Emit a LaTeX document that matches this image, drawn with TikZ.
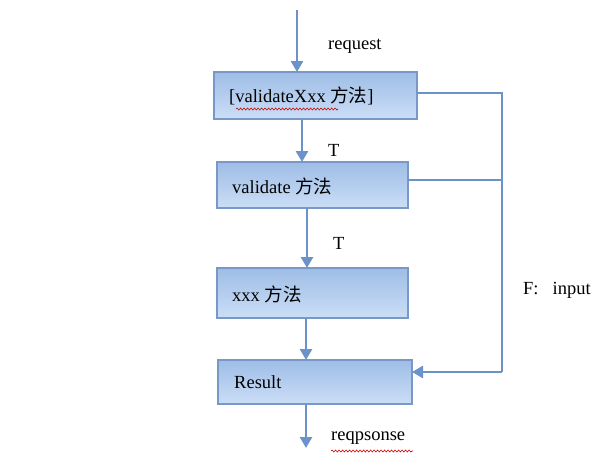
\documentclass[tikz,border=0pt]{standalone}
\usepackage{fontspec}
\setmainfont{Liberation Serif}
\newfontfamily\cjk{Noto Sans CJK SC}
\usetikzlibrary{arrows.meta,decorations.pathmorphing}
\definecolor{lineblue}{HTML}{6C93C9}
\definecolor{boxtop}{HTML}{9EBDE6}
\definecolor{boxbot}{HTML}{CBDEF6}
\definecolor{boxedge}{HTML}{7898C6}
\tikzset{
  x=1pt,y=-1pt,
  box/.style={draw=boxedge,line width=2pt,top color=boxtop,bottom color=boxbot},
  conn/.style={draw=lineblue,line width=2.6pt},
  arr/.style={conn,-{Triangle[length=11pt,width=12pt]}},
  lbl/.style={font=\fontsize{18.5}{20}\selectfont,inner sep=0pt,anchor=west},
  squig/.style={draw=red!80!black,line width=0.6pt,decorate,decoration={snake,amplitude=1pt,segment length=3.5pt}}
}
\begin{document}
\begin{tikzpicture}
\useasboundingbox (0,0) rectangle (605,455);
\fill[white] (0,0) rectangle (605,455);
% boxes
\path[box] (214,72) rectangle (417,119);
\path[box] (217,162) rectangle (408,208);
\path[box] (217,268) rectangle (408,318);
\path[box] (218,360) rectangle (412,404);
\coordinate (b1n) at (297,72);
\coordinate (b1s) at (302,119);
\coordinate (b2n) at (302,162);
\coordinate (b2s) at (307,208);
\coordinate (b3n) at (307,268);
\coordinate (b3s) at (306,318);
\coordinate (b4n) at (306,360);
\coordinate (b4s) at (306,404);
\coordinate (b1e) at (417,93);
\coordinate (b2e) at (408,180);
\coordinate (b4e) at (412,372);
\coordinate (top) at (297,10);
\coordinate (bot) at (306,448);
\coordinate (rt) at (502,93);
\coordinate (rm) at (502,180);
\coordinate (rb) at (502,372);
% labels in boxes
\node[lbl] (t1) at (229,96) {[validateXxx {\cjk 方法}]};
\node[lbl] (t2) at (232,186) {validate {\cjk 方法}};
\node[lbl] (t3) at (232,294) {xxx {\cjk 方法}};
\node[lbl] (t4) at (234,382) {Result};
% other labels
\node[lbl] (req) at (328,46) {request};
\node[lbl] (T1) at (328,150) {T};
\node[lbl] (T2) at (333,243) {T};
\node[lbl] (F) at (523,290) {F:\hspace{14pt}input};
\node[lbl] (resp) at (331,438) {reqpsonse};
% spellcheck squiggles
\path[squig] (236,109) -- (338,109);
\path[squig] (331,451) -- (413,451);
% connectors
\draw[arr] (top) -- (b1n);
\draw[arr] (b1s) -- (b2n);
\draw[arr] (b2s) -- (b3n);
\draw[arr] (b3s) -- (b4n);
\draw[arr] (b4s) -- (bot);
\draw[conn] (b1e) -- (rt) -- (rb);
\draw[conn] (b2e) -- (rm);
\draw[arr] (rb) -- (b4e);
\end{tikzpicture}
\end{document}
